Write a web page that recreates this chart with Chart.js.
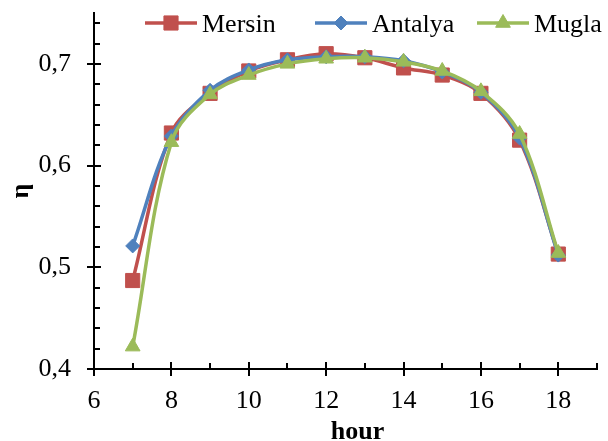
<!DOCTYPE html>
<html lang="en">
<head>
<meta charset="UTF-8">
<title>Efficiency by hour</title>
<script src="https://cdn.jsdelivr.net/npm/chart.js"></script>
<style>
  html, body { margin: 0; padding: 0; background: #fff; }
  canvas { display: block; }
</style>
</head>
<body>
<canvas id="chart" width="608" height="441"></canvas>
<script>
  // values
  const hours = [7, 8, 9, 10, 11, 12, 13, 14, 15, 16, 17, 18];
  const mersin = [0.487, 0.632, 0.671, 0.693, 0.704, 0.710, 0.706, 0.696, 0.689, 0.671, 0.625, 0.513];
  const antalya = [0.521, 0.629, 0.674, 0.694, 0.704, 0.707, 0.707, 0.703, 0.692, 0.672, 0.627, 0.512];
  const mugla = [0.422, 0.623, 0.670, 0.689, 0.700, 0.705, 0.706, 0.702, 0.693, 0.673, 0.631, 0.514];
  const seriesNames = ["Mersin", "Antalya", "Mugla"];
  const xTicks = [6, 8, 10, 12, 14, 16, 18];
  const yTicks = [0.4, 0.5, 0.6, 0.7];

  const RED = "#C0504D", BLUE = "#4F81BD", GREEN = "#9BBB59";
  const FONT = "'Liberation Serif', 'Times New Roman', serif";

  function series(label, values, color, style, radius, order) {
    return {
      label: label,
      data: hours.map((h, i) => ({ x: h, y: values[i] })),
      borderColor: color,
      backgroundColor: color,
      borderWidth: 3.5,
      pointStyle: style,
      pointRadius: radius,
      pointBackgroundColor: color,
      pointBorderColor: color,
      pointBorderWidth: 1,
      tension: 0.35,
      order: order
    };
  }

  // tick marks, axis titles and the legend are drawn by hand
  const decor = {
    id: "decor",
    afterDraw(chart) {
      const ctx = chart.ctx;
      const area = chart.chartArea;
      const xs = chart.scales.x, ys = chart.scales.y;
      ctx.save();
      ctx.strokeStyle = "#000";
      ctx.lineWidth = 2;
      ctx.beginPath();
      for (let v = xs.min; v <= xs.max + 1e-9; v += 1) {
        const px = Math.round(xs.getPixelForValue(v));
        if (xTicks.includes(v)) {
          ctx.moveTo(px, area.bottom - 7); ctx.lineTo(px, area.bottom + 7);
        } else {
          ctx.moveTo(px, area.bottom - 6); ctx.lineTo(px, area.bottom);
        }
      }
      for (let k = 0; ys.min + k * 0.02 <= ys.max + 1e-9; k++) {
        const v = ys.min + k * 0.02;
        const py = Math.round(ys.getPixelForValue(v));
        if (k % 5 === 0) {
          ctx.moveTo(area.left - 7, py); ctx.lineTo(area.left + 7, py);
        } else {
          ctx.moveTo(area.left, py); ctx.lineTo(area.left + 6, py);
        }
      }
      ctx.stroke();

      // axis titles
      ctx.fillStyle = "#000";
      ctx.font = "bold 26px " + FONT;
      ctx.textAlign = "center";
      ctx.textBaseline = "alphabetic";
      ctx.fillText("hour", (area.left + area.right) / 2 + 12, 439);
      ctx.save();
      ctx.translate(28, (area.top + area.bottom) / 2);
      ctx.rotate(-Math.PI / 2);
      ctx.fillText("\u03B7", 0, 0);
      ctx.restore();

      // legend: line + marker + label
      const startX = [145, 315, 477];
      const ly = 23;
      ctx.font = "26px " + FONT;
      ctx.textAlign = "left";
      chart.data.datasets.forEach((ds, i) => {
        const x0 = startX[i];
        ctx.strokeStyle = ds.borderColor;
        ctx.lineWidth = 3.5;
        ctx.beginPath();
        ctx.moveTo(x0, ly); ctx.lineTo(x0 + 52, ly);
        ctx.stroke();
        ctx.fillStyle = ds.pointBackgroundColor;
        ctx.strokeStyle = ds.pointBorderColor;
        ctx.lineWidth = 1;
        Chart.helpers.drawPoint(ctx, { pointStyle: ds.pointStyle, radius: ds.pointRadius, rotation: 0, borderWidth: 1 }, x0 + 26, ly);
        ctx.fillStyle = "#000";
        ctx.fillText(ds.label, x0 + 57, 32);
      });
      ctx.restore();
    }
  };

  new Chart(document.getElementById("chart"), {
    type: "line",
    data: {
      datasets: [
        series(seriesNames[0], mersin, RED, "rect", 10, 3),
        series(seriesNames[1], antalya, BLUE, "rectRot", 7, 2),
        series(seriesNames[2], mugla, GREEN, "triangle", 8.5, 1)
      ]
    },
    options: {
      responsive: false,
      animation: false,
      events: [],
      layout: { padding: { top: 13, right: 4, left: 0, bottom: 0 } },
      plugins: { legend: { display: false }, tooltip: { enabled: false } },
      scales: {
        x: {
          type: "linear",
          min: 6,
          max: 19,
          bounds: "data",
          grid: { display: false, drawTicks: false, tickLength: 0 },
          border: { display: true, color: "#000", width: 2 },
          afterBuildTicks: s => { s.ticks = xTicks.map(v => ({ value: v })); },
          afterFit: s => { s.height = 72; s.paddingLeft = 0; s.paddingRight = 0; },
          ticks: {
            padding: 17,
            maxRotation: 0,
            autoSkip: false,
            color: "#000",
            font: { family: FONT, size: 26 },
            callback: v => String(v)
          }
        },
        y: {
          min: 0.4,
          max: 0.75,
          bounds: "data",
          grid: { display: false, drawTicks: false, tickLength: 0 },
          border: { display: true, color: "#000", width: 2 },
          afterBuildTicks: s => { s.ticks = yTicks.map(v => ({ value: v })); },
          afterFit: s => { s.width = 94; s.paddingTop = 0; s.paddingBottom = 0; },
          ticks: {
            padding: 23,
            autoSkip: false,
            color: "#000",
            font: { family: FONT, size: 26 },
            callback: v => v.toFixed(1).replace(".", ",")
          }
        }
      }
    },
    plugins: [decor]
  });
</script>
</body>
</html>
